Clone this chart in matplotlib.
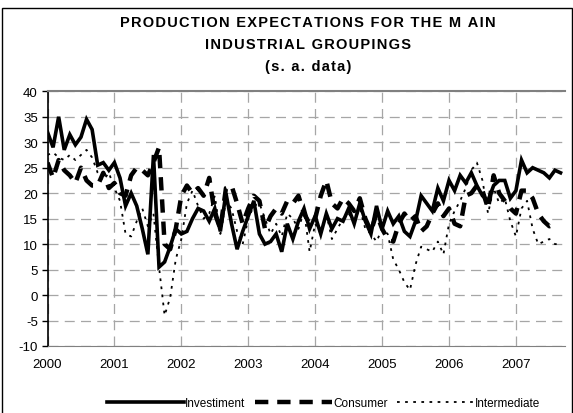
import numpy as np
import matplotlib.pyplot as plt
from matplotlib.patches import Rectangle

plt.rcParams['font.family'] = ['Liberation Sans', 'DejaVu Sans']
plt.rcParams['axes.unicode_minus'] = False

# monthly, Jan 2000 ->
investment = [32, 29, 35, 28.5, 31.5, 29.5, 31, 34.5, 32.5, 25.5, 26, 24.5,
              26, 23, 17.5, 20, 17.5, 13, 8, 27.5, 5.5, 6.5, 9.5, 13,
              12, 12.5, 15, 17, 16.5, 14.5, 17, 12.5, 20, 14, 9, 12.5,
              15.5, 18.5, 12, 10, 10.5, 12, 8.5, 14, 11, 14.5, 17, 13,
              15.5, 12, 16, 13, 15, 14.5, 17, 14, 18, 14.5, 12, 17.5,
              13, 16.5, 14, 15.5, 12.5, 11.5, 14.5, 19.5, 18, 16.5, 21, 18.5,
              22.5, 20.5, 23.5, 22, 24, 21.5, 19.5, 18.5, 21.5, 22.5, 22.5, 19,
              20.5, 26.5, 24, 25, 24.5, 24, 23, 24.5, 24]
consumer = [26, 23, 26.5, 24.5, 23.5, 22, 25, 22.5, 21.5, 21.5, 24, 21,
            22, 20, 19.5, 23.5, 25, 24.5, 23.5, 26, 29, 10, 9, 13,
            19.5, 21.5, 20, 21, 19.5, 23, 16, 13, 21, 21.5, 18, 14,
            17, 19.5, 18.5, 13, 15.5, 17, 16, 18.5, 18, 19.5, 16, 14,
            15, 19.5, 22.5, 18, 17, 19, 18, 16.5, 19, 15, 12.5, 16,
            13, 11, 10.5, 14, 16, 14.5, 15.5, 12.5, 13.5, 16, 18, 15.5,
            17, 14, 13.5, 19.5, 20, 21.5, 20.5, 17, 23.5, 20, 18.5, 17,
            16, 20.5, 20.5, 19, 16, 14.5, 13.5, 14]
intermediate = [27.5, 28, 27, 26.5, 27.5, 26.5, 27.5, 28.5, 27, 24, 22.5, 24,
                21, 18.5, 12, 11.5, 14.5, 17, 13.5, 16, 5.5, -4, -0.5, 7,
                11, 18, 20.5, 17.5, 15, 16, 19.5, 12, 18.5, 17, 12.5, 10,
                15, 17.5, 18, 15, 12, 14, 11.5, 16, 15, 13, 16.5, 8.5,
                14, 12, 16, 11, 13, 15, 16, 14.5, 17, 13, 12, 10.5,
                13, 12, 7, 5, 2.5, 1, 6, 9.5, 9, 8.5, 10.5, 8,
                14, 16.5, 18.5, 21, 24.5, 26, 22.5, 16, 21, 18, 19, 14.5,
                11.5, 17, 18.5, 13, 10, 10.5, 11, 10, 10]
years = ['2000', '2001', '2002', '2003', '2004', '2005', '2006', '2007']
title_lines = ['PRODUCTION EXPECTATIONS FOR THE M AIN', 'INDUSTRIAL GROUPINGS',
               '(s. a. data)']

fig = plt.figure(figsize=(5.73, 4.14), dpi=100)
ax = fig.add_axes([47.5/573, 1-347/414, (565-47.5)/573, (347-92.3)/414])

ax.plot(np.arange(len(investment)), investment, color='black', lw=2.6,
        solid_joinstyle='miter', label='Investiment')
ax.plot(np.arange(len(consumer)), consumer, color='black', lw=3.2,
        dashes=(3, 2), label='Consumer')
ax.plot(np.arange(len(intermediate)), intermediate, color='black', lw=1.3,
        dashes=(1.5, 3), label='Intermediate')

ax.set_xlim(0, 92.8)
ax.set_ylim(-10, 40)
ax.set_yticks(np.arange(-10, 41, 5))
ax.set_xticks(np.arange(0, 85, 12))
ax.set_xticklabels(years)
ax.tick_params(axis='y', length=4, width=1, labelsize=9.5, pad=3)
ax.tick_params(axis='x', length=0, labelsize=9.5, pad=9)
ax.grid(True, color='#a6a6a6', lw=0.9, dashes=(8, 5))
ax.set_axisbelow(True)
for s in ['top', 'bottom', 'right']:
    ax.spines[s].set_color('#808080')
ax.spines['right'].set_visible(False)
ax.spines['left'].set_linewidth(1.2)
ax.spines['top'].set_linewidth(1.5)

# spaced-out title letters
for t, yy in zip(title_lines, [23, 45, 67]):
    fig.text(0.537, 1-yy/414, '\u200a'.join(t),
             ha='center', va='center', fontsize=10.5, fontweight='bold')

fig.legend(loc='center', bbox_to_anchor=(0.565, 1-404/414), ncol=3,
           frameon=False, fontsize=8.5, handlelength=6.5,
           handletextpad=0.1, columnspacing=0.8)

fig.patches.append(Rectangle((1.5/573, -0.05), 570/573, 1.05-9/414,
                             transform=fig.transFigure, fill=False,
                             edgecolor='black', lw=1))

fig.savefig('out.png', dpi=100)
